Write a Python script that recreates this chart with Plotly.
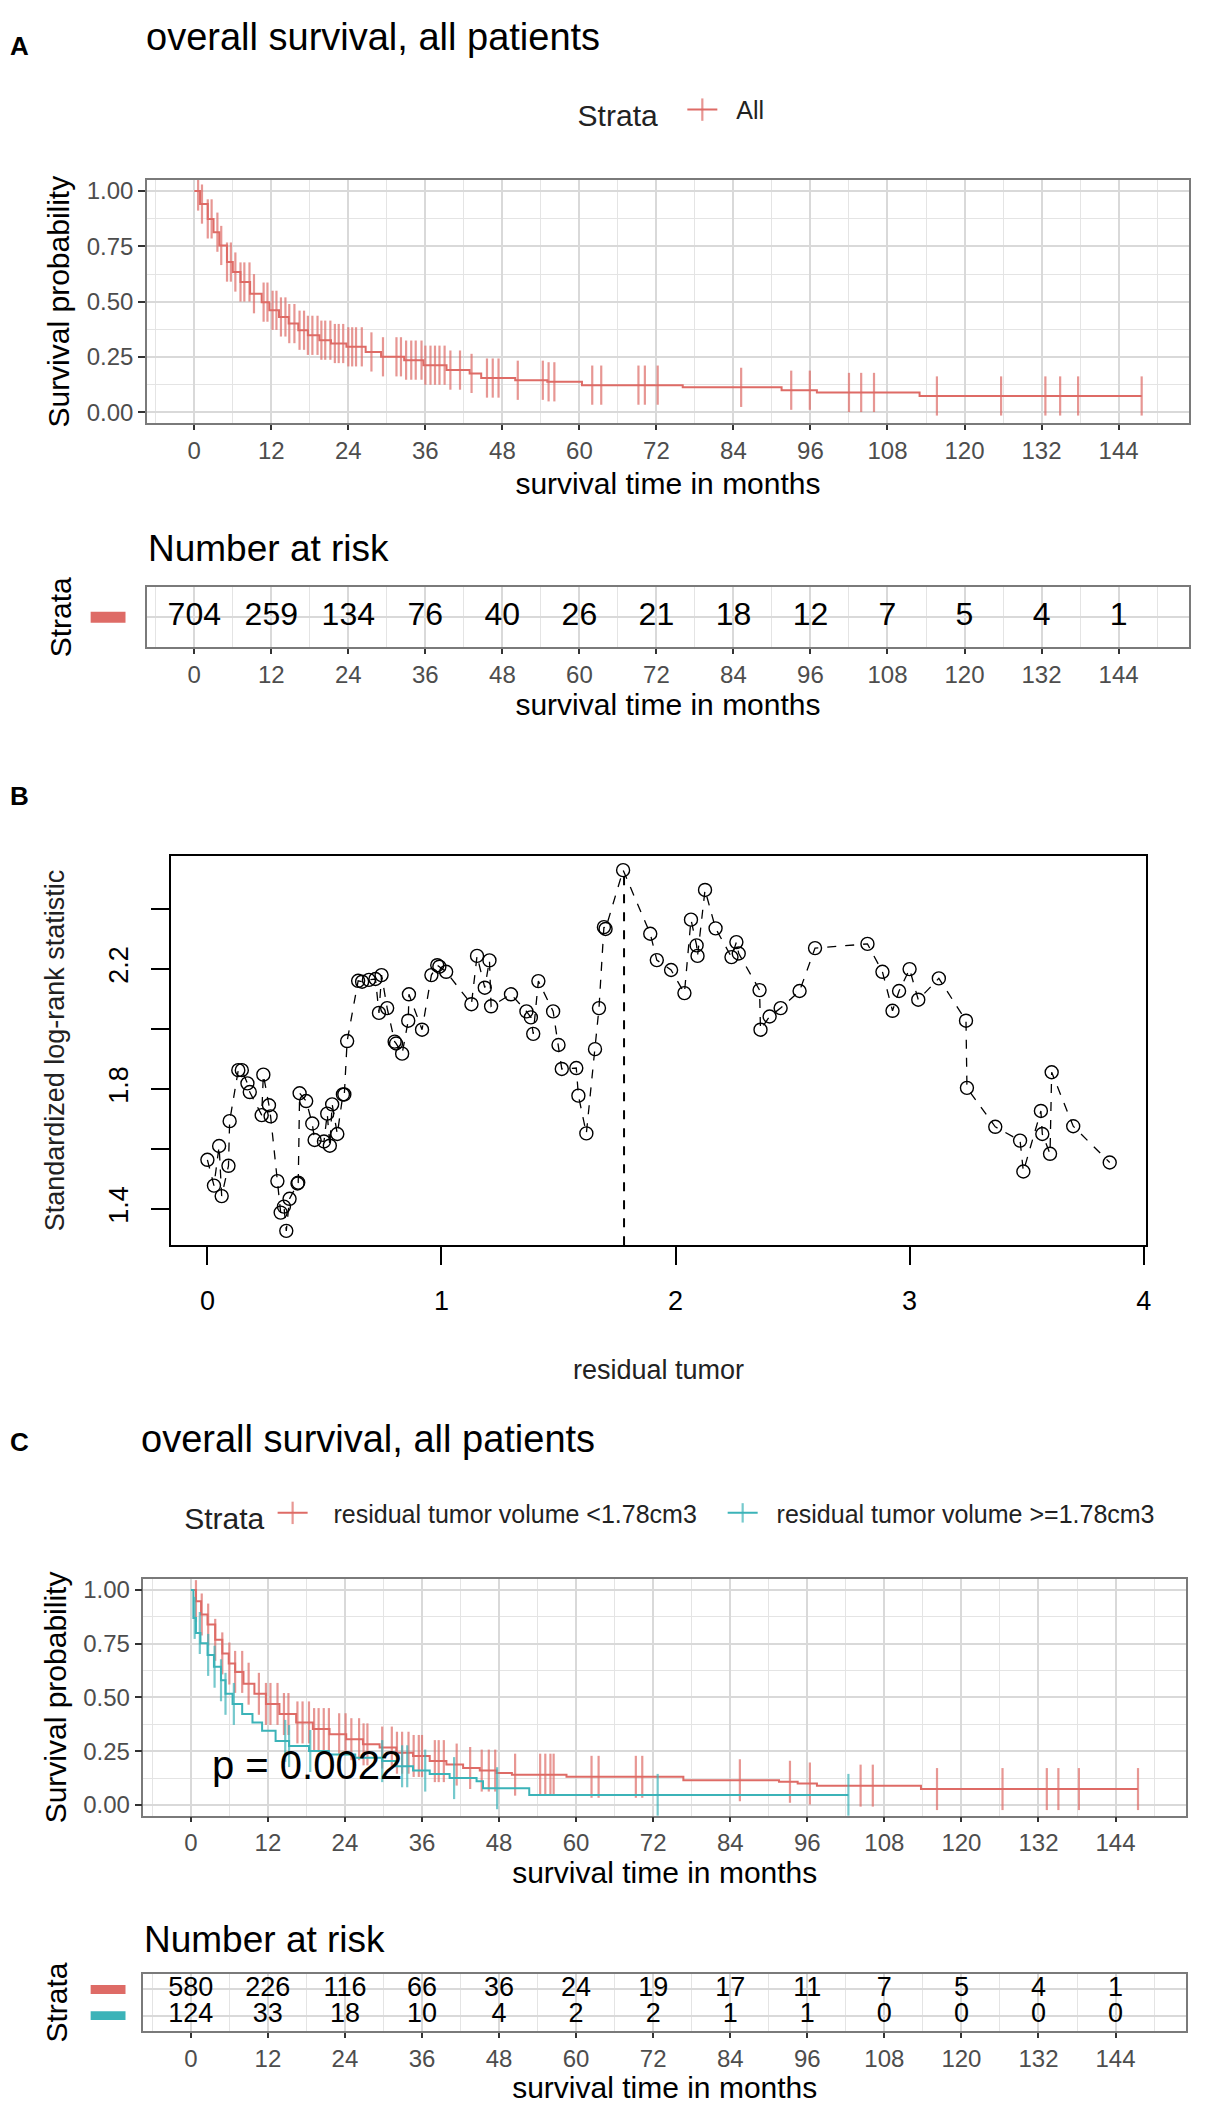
import plotly.graph_objects as go

# page body keeps an 8px margin, so the figure is drawn 16px smaller and every
# position read off the reference is shifted by that margin
PAGE_W, PAGE_H, BODY = 1210, 2112, 8
W, H = PAGE_W - 2 * BODY, PAGE_H - 2 * BODY
FONT = "Liberation Sans, Arial, sans-serif"
RED = "#DE6B66"
TEAL = "#3BB3B8"
GRID = "#d9d9d9"
MINOR = "#e4e4e4"
BORDER = "#7a7a7a"
TICKTXT = "#4d4d4d"
NB = "\u00a0"

# ---- panel A: Kaplan-Meier, all patients ----
km_all_t = [0, 0.9, 2.1, 3.0, 3.9, 5.1, 6.0, 7.2, 8.7, 10.5, 11.7, 13.2, 14.7, 16.2,
            17.7, 19.5, 21.3, 23.7, 26.7, 29.1, 32.7, 35.7, 39.3, 42.9, 44.7, 50.0,
            55.0, 60.4, 76.1, 91.5, 97.0, 113.0]
km_all_s = [1.0, 0.941, 0.874, 0.814, 0.754, 0.679, 0.634, 0.589, 0.536, 0.498, 0.461,
            0.431, 0.401, 0.371, 0.348, 0.326, 0.311, 0.296, 0.273, 0.251, 0.236, 0.213,
            0.191, 0.176, 0.155, 0.145, 0.138, 0.123, 0.113, 0.100, 0.090, 0.074]
cens_all = [0.6, 1.2, 2.1, 2.7, 3.6, 4.2, 5.1, 5.7, 6.4, 7.2, 7.8, 8.6, 9.3, 10.8, 11.4,
            12.2, 12.8, 13.5, 14.2, 14.8, 15.6, 16.4, 17.1, 17.7, 18.4, 19.2, 19.8, 20.4,
            21.2, 21.9, 22.5, 23.2, 24.0, 24.6, 25.2, 26.1, 27.6, 29.4, 31.5, 32.2, 33.0,
            33.8, 34.5, 35.4, 36.0, 36.8, 37.5, 38.2, 39.0, 39.9, 41.4, 43.2, 45.6, 46.5,
            47.4, 50.4, 54.3, 55.2, 56.1, 62.0, 63.4, 69.2, 70.2, 72.2, 85.2, 93.0, 95.9,
            102.0, 103.9, 105.9, 115.7, 125.7, 132.6, 134.9, 137.7, 147.6]
risk_times = [0, 12, 24, 36, 48, 60, 72, 84, 96, 108, 120, 132, 144]
risk_all = [704, 259, 134, 76, 40, 26, 21, 18, 12, 7, 5, 4, 1]

# ---- panel B: standardized log-rank statistic vs cutpoint ----
cut_x = [0.0, 0.028, 0.05, 0.061, 0.09, 0.095, 0.132, 0.147, 0.171, 0.181, 0.232, 0.239,
         0.263, 0.27, 0.299, 0.313, 0.327, 0.337, 0.351, 0.385, 0.388, 0.394, 0.422,
         0.448, 0.458, 0.498, 0.512, 0.523, 0.533, 0.555, 0.579, 0.585, 0.597, 0.644,
         0.661, 0.69, 0.718, 0.733, 0.744, 0.768, 0.8, 0.806, 0.832, 0.858, 0.861, 0.917,
         0.957, 0.982, 0.991, 1.02, 1.128, 1.152, 1.185, 1.205, 1.212, 1.297, 1.363,
         1.382, 1.392, 1.414, 1.477, 1.5, 1.514, 1.576, 1.585, 1.619, 1.656, 1.673,
         1.694, 1.701, 1.776, 1.892, 1.92, 1.981, 2.038, 2.066, 2.09, 2.094, 2.126,
         2.171, 2.239, 2.26, 2.27, 2.359, 2.363, 2.402, 2.449, 2.53, 2.596, 2.82, 2.884,
         2.927, 2.955, 3.0, 3.037, 3.125, 3.241, 3.245, 3.366, 3.472, 3.486, 3.561,
         3.567, 3.6, 3.607, 3.699, 3.855]
cut_stat = [1.564, 1.478, 1.61, 1.443, 1.544, 1.693, 1.863, 1.863, 1.819, 1.79, 1.713,
            1.848, 1.746, 1.709, 1.493, 1.388, 1.408, 1.327, 1.434, 1.485, 1.488, 1.786,
            1.76, 1.685, 1.63, 1.625, 1.718, 1.611, 1.749, 1.65, 1.782, 1.782, 1.96,
            2.161, 2.158, 2.164, 2.167, 2.054, 2.18, 2.07, 1.958, 1.952, 1.918, 2.028,
            2.116, 1.998, 2.18, 2.213, 2.208, 2.191, 2.083, 2.244, 2.138, 2.229, 2.076,
            2.116, 2.059, 2.039, 1.984, 2.16, 2.059, 1.947, 1.867, 1.87, 1.778, 1.652,
            1.933, 2.07, 2.34, 2.334, 2.53, 2.318, 2.23, 2.197, 2.12, 2.365, 2.279,
            2.244, 2.464, 2.336, 2.24, 2.29, 2.252, 2.13, 1.998, 2.042, 2.07, 2.127,
            2.27, 2.284, 2.191, 2.061, 2.127, 2.2, 2.098, 2.169, 2.028, 1.804, 1.674,
            1.628, 1.525, 1.727, 1.65, 1.584, 1.856, 1.676, 1.555]
cutpoint = 1.78

# ---- panel C: Kaplan-Meier by residual tumor volume ----
km_lo_t = [0, 0.8, 1.6, 2.6, 3.8, 4.9, 5.9, 6.9, 8.2, 9.9, 11.7, 13.8, 16.4, 19.0, 21.6,
           24.2, 26.8, 29.4, 32.0, 34.6, 37.2, 39.8, 42.4, 45.0, 47.6, 50.0, 58.5, 76.7,
           91.6, 94.5, 97.5, 113.7]
km_lo_s = [1.0, 0.948, 0.886, 0.839, 0.768, 0.705, 0.658, 0.619, 0.564, 0.517, 0.470,
           0.423, 0.384, 0.353, 0.329, 0.306, 0.282, 0.267, 0.243, 0.228, 0.204, 0.188,
           0.172, 0.160, 0.149, 0.141, 0.131, 0.115, 0.108, 0.100, 0.090, 0.074]
cens_lo = [0.8, 1.7, 2.7, 3.8, 4.9, 6.0, 6.9, 8.0, 9.0, 10.6, 11.7, 12.4, 13.5, 14.5,
           15.2, 16.6, 17.4, 18.4, 19.2, 19.9, 20.7, 21.5, 23.1, 24.1, 25.0, 26.2, 26.9,
           27.5, 29.8, 31.3, 32.1, 32.9, 33.9, 34.7, 35.5, 36.0, 38.0, 38.6, 39.4, 41.4,
           43.5, 45.3, 46.4, 47.4, 50.5, 54.4, 55.2, 56.0, 56.5, 62.4, 63.5, 69.3, 70.3,
           85.5, 93.3, 96.4, 104.3, 106.2, 116.2, 126.4, 133.3, 135.1, 138.3, 147.5]
km_hi_t = [0, 0.4, 0.8, 1.5, 2.6, 3.6, 4.7, 5.4, 6.5, 8.0, 9.6, 11.1, 13.2, 15.3, 18.4,
           21.5, 25.6, 29.8, 31.9, 34.6, 37.2, 40.3, 44.5, 45.5, 52.7]
km_hi_s = [1.0, 0.87, 0.80, 0.752, 0.698, 0.643, 0.58, 0.517, 0.47, 0.423, 0.384, 0.345,
           0.298, 0.274, 0.251, 0.235, 0.22, 0.204, 0.18, 0.16, 0.144, 0.125, 0.11,
           0.078, 0.047]
cens_hi = [0.6, 1.4, 2.7, 3.7, 4.7, 5.4, 6.7, 14.7, 15.3, 18.6, 29.8, 32.9, 33.7, 36.5,
           41.0, 47.7, 72.7, 102.4]
risk_lo = [580, 226, 116, 66, 36, 24, 19, 17, 11, 7, 5, 4, 1]
risk_hi = [124, 33, 18, 10, 4, 2, 2, 1, 1, 0, 0, 0, 0]
p_text = "p = 0.0022"
label_lo = "residual tumor volume <1.78cm3"
label_hi = "residual tumor volume >=1.78cm3"


def px_x(p):
    return (p - BODY) / W


def px_y(p):
    return 1 - (p - BODY) / H


def step_value(t, times, surv):
    val = surv[0]
    for tt, ss in zip(times, surv):
        if tt <= t:
            val = ss
    return val


def km_trace(times, surv, cens, color, name, xa, ya, legend, mark=28):
    """Step curve with censor ticks drawn on the same trace."""
    cset = set(cens)
    xs = sorted(set(times) | cset)
    ys = [step_value(t, times, surv) for t in xs]
    sizes = [mark if t in cset else 0 for t in xs]
    return go.Scatter(
        x=xs, y=ys, mode="lines+markers", name=name,
        line=dict(color=color, width=2, shape="hv"),
        marker=dict(symbol="line-ns", size=sizes, color=color,
                    line=dict(color=color, width=2.2)),
        xaxis=xa, yaxis=ya, legend=legend, hoverinfo="skip",
    )


tmax = max(cens_all)
x_range = [-0.05 * tmax, tmax * 1.05]

fig = go.Figure()

# Panel A
fig.add_trace(km_trace(km_all_t, km_all_s, cens_all, RED, NB * 2 + "All", "x", "y", "legend"))
fig.add_trace(go.Scatter(
    x=risk_times, y=[1] * len(risk_times), mode="text",
    text=[str(v) for v in risk_all], textfont=dict(size=32, color="black"),
    xaxis="x2", yaxis="y2", showlegend=False, hoverinfo="skip"))

# Panel B
fig.add_trace(go.Scatter(
    x=cut_x, y=cut_stat, mode="lines+markers",
    line=dict(color="black", width=1.3, dash="dash"),
    marker=dict(symbol="circle-open", size=13, color="black", line=dict(width=1.4)),
    xaxis="x3", yaxis="y3", showlegend=False, hoverinfo="skip"))
s_lo, s_hi = min(cut_stat), max(cut_stat)
b_pad = 0.04 * (s_hi - s_lo)
b_yrange = [s_lo - b_pad, s_hi + b_pad]
fig.add_trace(go.Scatter(
    x=[cutpoint, cutpoint], y=[b_yrange[0], s_hi], mode="lines",
    line=dict(color="black", width=2, dash="dash"),
    xaxis="x3", yaxis="y3", showlegend=False, hoverinfo="skip"))

# Panel C
fig.add_trace(km_trace(km_lo_t, km_lo_s, cens_lo, RED, NB * 3 + label_lo + NB * 3,
                       "x4", "y4", "legend2", 30))
fig.add_trace(km_trace(km_hi_t, km_hi_s, cens_hi, TEAL, NB * 2 + label_hi,
                       "x4", "y4", "legend2", 30))
for row, vals in enumerate([risk_lo, risk_hi], start=1):
    fig.add_trace(go.Scatter(
        x=risk_times, y=[row] * len(risk_times), mode="text",
        text=[str(v) for v in vals], textfont=dict(size=27, color="black"),
        xaxis="x5", yaxis="y5", showlegend=False, hoverinfo="skip"))


def km_xaxis(domain, anchor, title, standoff=6):
    return dict(
        domain=domain, anchor=anchor, range=x_range,
        tickmode="array", tickvals=risk_times,
        showgrid=True, gridcolor=GRID, gridwidth=1.5,
        minor=dict(dtick=6, tick0=0, showgrid=True, gridcolor=MINOR, gridwidth=1.2),
        ticks="outside", ticklen=5, tickwidth=2, tickcolor="#333333",
        tickfont=dict(size=24, color=TICKTXT),
        showline=True, mirror=True, linecolor=BORDER, linewidth=1.5, zeroline=False,
        title=dict(text=title, font=dict(size=30, color="black"), standoff=standoff),
    )


def km_yaxis(domain, anchor):
    return dict(
        domain=domain, anchor=anchor, range=[-0.05, 1.05],
        tickmode="array", tickvals=[0, 0.25, 0.5, 0.75, 1.0],
        ticktext=["0.00", "0.25", "0.50", "0.75", "1.00"],
        showgrid=True, gridcolor=GRID, gridwidth=1.5,
        minor=dict(dtick=0.125, tick0=0, showgrid=True, gridcolor=MINOR, gridwidth=1.2),
        ticks="outside", ticklen=7, tickwidth=2, tickcolor="#333333",
        tickfont=dict(size=24, color=TICKTXT),
        showline=True, mirror=True, linecolor=BORDER, linewidth=1.5, zeroline=False,
        title=dict(text="Survival probability", font=dict(size=30, color="black"), standoff=8),
    )


def risk_yaxis(domain, anchor, n):
    # strata keys are drawn as coloured bars left of the table (see shapes below)
    return dict(
        domain=domain, anchor=anchor, range=[n + 0.6, 0.4],
        tickmode="array", tickvals=list(range(1, n + 1)), showticklabels=False,
        showgrid=True, gridcolor=GRID, gridwidth=1.5, ticks="",
        showline=True, mirror=True, linecolor=BORDER, linewidth=1.5, zeroline=False,
        title=dict(text="Strata", font=dict(size=30, color="black"), standoff=65),
    )


a_x = [px_x(147.5), px_x(1194)]
c_x = [px_x(144), px_x(1191)]

fig.update_layout(
    width=W, height=H,
    margin=dict(l=0, r=0, t=0, b=0),
    paper_bgcolor="white", plot_bgcolor="white",
    font=dict(family=FONT, color="black"),
    xaxis=km_xaxis(a_x, "y", "survival time in months", standoff=10),
    yaxis=km_yaxis([px_y(423), px_y(178)], "x"),
    xaxis2=km_xaxis(a_x, "y2", "survival time in months"),
    yaxis2=risk_yaxis([px_y(648), px_y(588)], "x2", 1),
    xaxis3=dict(
        domain=[px_x(172), px_x(1150.6)], anchor="y3",
        range=[-0.04 * max(cut_x), 1.04 * max(cut_x)],
        tickmode="array", tickvals=[0, 1, 2, 3, 4],
        ticks="outside", ticklen=18, tickwidth=2, tickcolor="black",
        ticklabelstandoff=12,
        tickfont=dict(size=27, color="black"),
        showline=True, mirror=True, linecolor="black", linewidth=2,
        showgrid=False, zeroline=False,
        title=dict(text="residual tumor", font=dict(size=27, color="#222222"), standoff=45),
    ),
    yaxis3=dict(
        domain=[px_y(1250), px_y(858)], anchor="x3", range=b_yrange,
        tickmode="array", tickvals=[1.4, 1.6, 1.8, 2.0, 2.2, 2.4],
        ticktext=["1.4", "", "1.8", "", "2.2", ""], tickangle=-90,
        ticks="outside", ticklen=18, tickwidth=2, tickcolor="black",
        ticklabelstandoff=13,
        tickfont=dict(size=27, color="black"),
        showline=True, mirror=True, linecolor="black", linewidth=2,
        showgrid=False, zeroline=False,
        title=dict(text="Standardized log-rank statistic",
                   font=dict(size=27, color="#222222"), standoff=31),
    ),
    xaxis4=km_xaxis(c_x, "y4", "survival time in months"),
    yaxis4=km_yaxis([px_y(1824), px_y(1586)], "x4"),
    xaxis5=km_xaxis(c_x, "y5", "survival time in months", standoff=11),
    yaxis5=risk_yaxis([px_y(2041), px_y(1983)], "x5", 2),
    legend=dict(
        orientation="h", x=px_x(578), y=px_y(109), xanchor="left", yanchor="middle",
        title=dict(text="Strata" + NB * 2, side="left", font=dict(size=30, color="#222222")),
        font=dict(size=25, color="#222222"), bgcolor="rgba(0,0,0,0)",
    ),
    legend2=dict(
        orientation="h", x=px_x(183), y=px_y(1521), xanchor="left", yanchor="middle",
        title=dict(text="Strata", side="left", font=dict(size=30, color="#222222")),
        font=dict(size=25, color="#222222"), bgcolor="rgba(0,0,0,0)",
    ),
)

# strata colour keys beside the number-at-risk tables
for ya, colors, half in [("y2", [RED], 0.11), ("y5", [RED, TEAL], 0.17)]:
    for row, col in enumerate(colors, start=1):
        fig.add_shape(type="rect", xref="paper", yref=ya,
                      x0=px_x(91), x1=px_x(126), y0=row - half, y1=row + half,
                      fillcolor=col, line=dict(width=0), layer="above")

notes = [
    ("<b>A</b>", 8, 43, 26), ("overall survival, all patients", 145, 34, 38),
    ("Number at risk", 147, 549, 37),
    ("<b>B</b>", 8, 798, 26),
    ("<b>C</b>", 8, 1448, 26), ("overall survival, all patients", 140, 1445, 38),
    ("Number at risk", 143, 1949, 37),
]
for text, x, y, size in notes:
    fig.add_annotation(text=text, xref="paper", yref="paper", x=px_x(x), y=px_y(y),
                       xanchor="left", yanchor="middle", showarrow=False,
                       font=dict(size=size, color="black"))
fig.add_annotation(text=p_text, xref="x4", yref="y4", x=3.0, y=0.185,
                   xanchor="left", yanchor="middle", showarrow=False,
                   font=dict(size=40, color="black"))

fig.write_html("out.html")
